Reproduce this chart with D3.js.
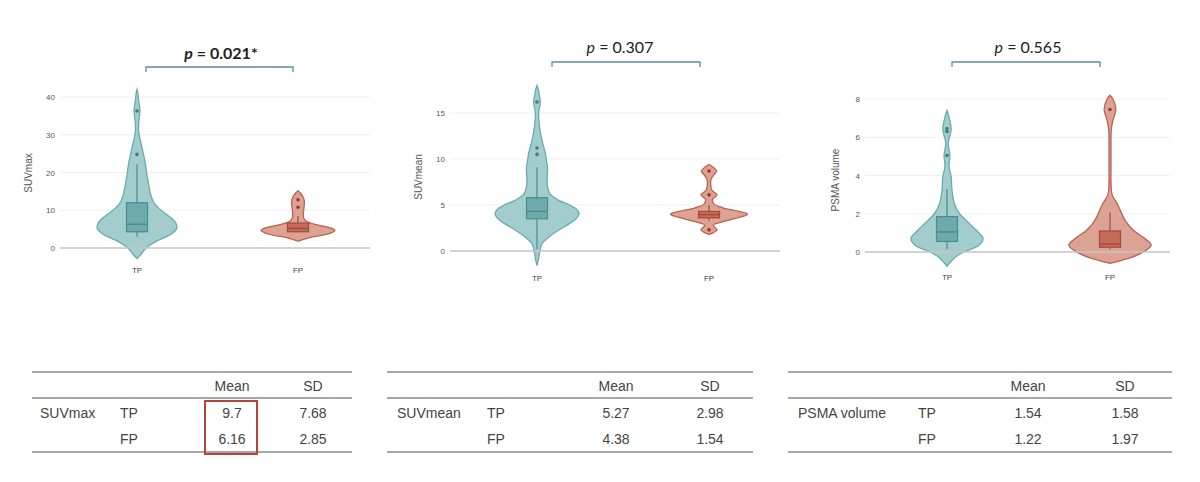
<!DOCTYPE html>
<html>
<head>
<meta charset="utf-8">
<script src="https://cdn.jsdelivr.net/npm/d3@7"></script>
<style>
  body { margin: 0; background: #fff; }
  svg text { font-family: "Liberation Sans", Arial, sans-serif; }
</style>
</head>
<body>
<div id="container"></div>
<script>
const width = 1200;
const height = 482;

const groups = ["TP", "FP"];

// violin outlines: value -> relative half width
const suvmaxTPVals = [-2.8,-2,-1,0,1,2,3,4,5,5.5,6.5,8,9,10,11,12,14,16,18,19,20,22.3,24,26,27.5,29.5,31,33,35,36.3,37.5,39,41,42];
const suvmaxTPDens = [0,.07,.14,.22,.34,.5,.7,.85,.94,.95,.93,.81,.69,.57,.48,.4,.33,.29,.26,.24,.23,.2,.17,.13,.1,.06,.04,.04,.06,.07,.06,.04,.02,0];
const suvmaxFPVals = [1.8,2.5,3,3.5,4,4.7,5.5,6.2,7,7.8,8.5,9.5,10.5,11.5,12.5,13.5,14.5,15.2];
const suvmaxFPDens = [0,.19,.38,.62,.79,.88,.71,.43,.21,.14,.13,.13,.14,.15,.15,.12,.06,0];

const suvmeanTPVals = [-1.6,-1,-0.2,0.8,1.5,2.25,3,3.5,4,4.5,5,5.5,6.2,7,7.7,8.5,9.1,10,10.6,12,13.5,15,16.2,17,17.5,18];
const suvmeanTPDens = [0,.03,.06,.12,.28,.51,.78,.93,1,.95,.78,.52,.31,.25,.24,.25,.25,.22,.2,.12,.06,.04,.08,.05,.035,0];
const suvmeanFPVals = [1.8,2.3,2.8,3.3,3.7,4,4.3,4.7,5.1,5.6,6.1,6.6,7.2,7.8,8.3,8.7,9.1,9.4];
const suvmeanFPDens = [0,.19,.1,.43,.76,.92,.71,.33,.12,.08,.19,.07,.04,.05,.12,.18,.1,0];

const psmaTPVals = [-0.75,-0.6,-0.25,0,0.35,0.7,1.15,1.6,2,2.5,3.2,3.9,4.5,5.05,5.7,6.4,7,7.4];
const psmaTPDens = [0,.05,.21,.4,.76,.86,.69,.48,.3,.18,.12,.1,.05,.07,.03,.1,.055,0];
const psmaFPVals = [-0.6,-0.45,-0.1,0.35,0.7,1.15,1.65,2.1,2.5,3,3.6,4.6,5.6,6.4,6.9,7.45,8,8.2];
const psmaFPDens = [0,.26,.71,.98,.83,.55,.36,.26,.18,.05,.025,.024,.024,.03,.07,.14,.07,0];

// box plot stats: [lowWhisker, q1, median, q3, highWhisker]
const suvmaxBoxes = [[3, 4.3, 6.3, 12, 22.2], [4.3, 4.3, 5.2, 6.6, 8.5]];
const suvmeanBoxes = [[0.2, 3.5, 4.3, 5.8, 9.1], [3.3, 3.6, 3.95, 4.3, 5]];
const psmaBoxes = [[0.15, 0.55, 1.05, 1.85, 3.3], [0.15, 0.25, 0.42, 1.1, 2.05]];

const suvmaxOutliers = [[24.8, 36.3], [10.8, 12.8]];
const suvmeanOutliers = [[10.5, 11.2, 16.2], [2.3, 6.1, 8.7]];
const psmaOutliers = [[5.05, 6.3, 6.45], [7.45]];

const suvmaxTicks = [0, 10, 20, 30, 40];
const suvmeanTicks = [0, 5, 10, 15];
const psmaTicks = [0, 2, 4, 6, 8];

const pValues = ["0.021*", "0.307", "0.565"];
const measures = ["SUVmax", "SUVmean", "PSMA volume"];
const meanTP = ["9.7", "5.27", "1.54"];
const meanFP = ["6.16", "4.38", "1.22"];
const sdTP = ["7.68", "2.98", "1.58"];
const sdFP = ["2.85", "1.54", "1.97"];

const colors = {
  TP: { fill: "#a2cdcc", stroke: "#69acad", box: "#6eaaab", boxStroke: "#488e90", dot: "#3f7d7f" },
  FP: { fill: "#dca394", stroke: "#bb6250", box: "#c56b59", boxStroke: "#a54b3b", dot: "#8f3b2e" }
};

// layout of the three panels
const panels = [
  { title: measures[0], p: pValues[0], bold: true, ticks: suvmaxTicks,
    y0: 248, y1: 97, gx0: 60, gx1: 370, xTP: 137, xFP: 298, catY: 273,
    titleX: 28, titleY: 173, bx0: 146, bx1: 293, by: 67, py: 59, pX: 221,
    vals: [suvmaxTPVals, suvmaxFPVals], dens: [suvmaxTPDens, suvmaxFPDens],
    boxes: suvmaxBoxes, outliers: suvmaxOutliers },
  { title: measures[1], p: pValues[1], bold: false, ticks: suvmeanTicks,
    y0: 251, y1: 113, gx0: 450, gx1: 780, xTP: 537, xFP: 709, catY: 281,
    titleX: 418, titleY: 177, bx0: 552, bx1: 700, by: 62, py: 53, pX: 620,
    vals: [suvmeanTPVals, suvmeanFPVals], dens: [suvmeanTPDens, suvmeanFPDens],
    boxes: suvmeanBoxes, outliers: suvmeanOutliers },
  { title: measures[2], p: pValues[2], bold: false, ticks: psmaTicks,
    y0: 252, y1: 99, gx0: 865, gx1: 1170, xTP: 947, xFP: 1110, catY: 280,
    titleX: 835, titleY: 180, bx0: 952, bx1: 1100, by: 62, py: 53, pX: 1028,
    vals: [psmaTPVals, psmaFPVals], dens: [psmaTPDens, psmaFPDens],
    boxes: psmaBoxes, outliers: psmaOutliers }
];

const svg = d3.select("div#container")
  .append("svg")
  .attr("width", width)
  .attr("height", height);

const halfWidth = d3.scaleLinear().domain([0, 1]).range([0, 42]);

panels.forEach(function(pn) {
  const g = svg.append("g");
  const top = pn.ticks[pn.ticks.length - 1];
  const y = d3.scaleLinear().domain([0, top]).range([pn.y0, pn.y1]);
  const x = d3.scalePoint().domain(groups).range([pn.xTP, pn.xFP]);

  // grid
  g.selectAll(".grid")
    .data(pn.ticks.filter(function(t) { return t !== 0; }))
    .enter()
    .append("line")
    .attr("x1", pn.gx0).attr("x2", pn.gx1)
    .attr("y1", function(d) { return y(d); })
    .attr("y2", function(d) { return y(d); })
    .attr("stroke", "#f0f0f0")
    .attr("stroke-width", 1);

  const yaxis = d3.axisLeft(y).tickValues(pn.ticks).tickSize(0).tickPadding(5);
  const ax = g.append("g")
    .attr("transform", "translate(" + pn.gx0 + ",0)")
    .call(yaxis);
  ax.select(".domain").remove();
  ax.selectAll("text")
    .attr("fill", "#555")
    .style("font-size", "8px");

  g.append("text")
    .attr("transform", "translate(" + pn.titleX + "," + pn.titleY + ") rotate(-90)")
    .attr("text-anchor", "middle")
    .attr("dy", "0.35em")
    .attr("fill", "#555")
    .style("font-size", "10px")
    .text(pn.title);

  groups.forEach(function(grp, i) {
    const c = colors[grp];
    const cx = x(grp);
    const pts = pn.vals[i].map(function(v, k) { return [v, pn.dens[i][k]]; });

    const area = d3.area()
      .y(function(d) { return y(d[0]); })
      .x0(function(d) { return cx - halfWidth(d[1]); })
      .x1(function(d) { return cx + halfWidth(d[1]); })
      .curve(d3.curveCatmullRom.alpha(0.5));

    g.append("path")
      .datum(pts)
      .attr("d", area)
      .attr("fill", c.fill)
      .attr("stroke", c.stroke)
      .attr("stroke-width", 1.3);

    const b = pn.boxes[i];
    g.append("line")
      .attr("x1", cx).attr("x2", cx)
      .attr("y1", y(b[0])).attr("y2", y(b[4]))
      .attr("stroke", c.boxStroke)
      .attr("stroke-width", 1.2);

    g.append("rect")
      .attr("x", cx - 10.5)
      .attr("width", 21)
      .attr("y", y(b[3]))
      .attr("height", y(b[1]) - y(b[3]))
      .attr("fill", c.box)
      .attr("stroke", c.boxStroke)
      .attr("stroke-width", 1.2);

    g.append("line")
      .attr("x1", cx - 10.5).attr("x2", cx + 10.5)
      .attr("y1", y(b[2])).attr("y2", y(b[2]))
      .attr("stroke", c.boxStroke)
      .attr("stroke-width", 1.4);

    g.selectAll(".out" + i)
      .data(pn.outliers[i])
      .enter()
      .append("circle")
      .attr("cx", cx)
      .attr("cy", function(d) { return y(d); })
      .attr("r", 1.8)
      .attr("fill", c.dot);

    g.append("text")
      .attr("x", cx)
      .attr("y", pn.catY)
      .attr("text-anchor", "middle")
      .attr("fill", "#444")
      .style("font-size", "8px")
      .text(grp);
  });

  // zero line
  g.append("line")
    .attr("x1", pn.gx0).attr("x2", pn.gx1)
    .attr("y1", y(0)).attr("y2", y(0))
    .attr("stroke", "#c4c4c4")
    .attr("stroke-width", 1.5);

  // significance bracket
  g.append("path")
    .attr("d", "M" + pn.bx0 + "," + (pn.by + 5) + "V" + pn.by + "H" + pn.bx1 + "V" + (pn.by + 5))
    .attr("fill", "none")
    .attr("stroke", "#5d8fa0")
    .attr("stroke-width", 1.3);

  const pt = g.append("text")
    .attr("x", pn.pX)
    .attr("y", pn.py)
    .attr("text-anchor", "middle")
    .attr("fill", "#222")
    .style("font-family", "Lato, 'Open Sans', sans-serif")
    .style("font-size", "16px")
    .style("font-weight", pn.bold ? "bold" : "normal");
  pt.append("tspan").style("font-style", "italic").text("p");
  pt.append("tspan").text(" = " + pn.p);
});

// summary tables
const tables = [
  { x0: 32, x1: 352, labelX: 40, grpX: 120, meanX: 232, sdX: 313, highlight: true },
  { x0: 387, x1: 753, labelX: 397, grpX: 487, meanX: 616, sdX: 710, highlight: false },
  { x0: 788, x1: 1172, labelX: 798, grpX: 918, meanX: 1028, sdX: 1125, highlight: false }
];

tables.forEach(function(t, i) {
  const g = svg.append("g");
  [372, 398, 452].forEach(function(ly) {
    g.append("line")
      .attr("x1", t.x0).attr("x2", t.x1)
      .attr("y1", ly).attr("y2", ly)
      .attr("stroke", "#8a8a8a")
      .attr("stroke-width", 1.5);
  });

  const cells = [
    { x: t.meanX, y: 386, s: "Mean", a: "middle" },
    { x: t.sdX, y: 386, s: "SD", a: "middle" },
    { x: t.labelX, y: 413, s: measures[i], a: "start" },
    { x: t.grpX, y: 413, s: groups[0], a: "start" },
    { x: t.grpX, y: 439, s: groups[1], a: "start" },
    { x: t.meanX, y: 413, s: meanTP[i], a: "middle" },
    { x: t.meanX, y: 439, s: meanFP[i], a: "middle" },
    { x: t.sdX, y: 413, s: sdTP[i], a: "middle" },
    { x: t.sdX, y: 439, s: sdFP[i], a: "middle" }
  ];

  g.selectAll("text")
    .data(cells)
    .enter()
    .append("text")
    .attr("x", function(d) { return d.x; })
    .attr("y", function(d) { return d.y; })
    .attr("dy", "0.35em")
    .attr("text-anchor", function(d) { return d.a; })
    .attr("fill", "#444")
    .style("font-size", "14px")
    .text(function(d) { return d.s; });

  if (t.highlight) {
    g.append("rect")
      .attr("x", t.meanX - 27)
      .attr("y", 401)
      .attr("width", 52)
      .attr("height", 53)
      .attr("fill", "none")
      .attr("stroke", "#b5443a")
      .attr("stroke-width", 2);
  }
});
</script>
</body>
</html>
